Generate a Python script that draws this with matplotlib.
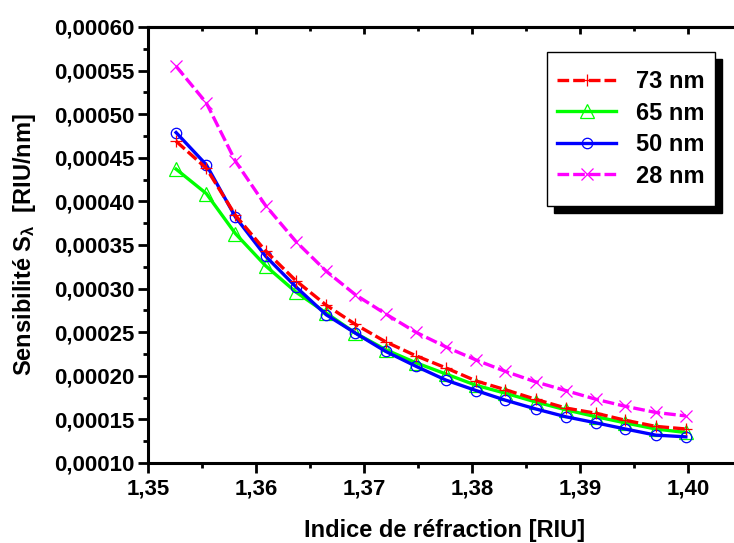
import matplotlib
matplotlib.use('Agg')
import matplotlib.pyplot as plt
from matplotlib.patches import Rectangle
from matplotlib.ticker import MultipleLocator, FuncFormatter

plt.rcParams['font.family'] = ['Liberation Sans', 'DejaVu Sans']
plt.rcParams['font.weight'] = 'bold'
plt.rcParams['mathtext.fontset'] = 'custom'
plt.rcParams['mathtext.rm'] = 'Liberation Sans:bold'
plt.rcParams['mathtext.it'] = 'Liberation Sans:bold'
plt.rcParams['mathtext.bf'] = 'Liberation Sans:bold'

# refractive index
n_index = [1.3526, 1.3554, 1.3581, 1.3609, 1.3637, 1.3665, 1.3692, 1.3720, 1.3748,
           1.3776, 1.3804, 1.3831, 1.3859, 1.3887, 1.3915, 1.3942, 1.3970, 1.3998]

# sensitivity per thickness
s_73nm = [0.000469, 0.000438, 0.000384, 0.000343, 0.000309, 0.000281, 0.000259, 0.000239, 0.000223,
          0.000209, 0.000194, 0.000184, 0.000173, 0.000163, 0.000157, 0.000149, 0.000142, 0.000139]
s_65nm = [0.000437, 0.000409, 0.000363, 0.000326, 0.000296, 0.000272, 0.000249, 0.000230, 0.000215,
          0.000202, 0.000189, 0.000180, 0.000170, 0.000161, 0.000153, 0.000146, 0.000139, 0.000135]
s_50nm = [0.000479, 0.000442, 0.000382, 0.000337, 0.000302, 0.000270, 0.000249, 0.000228, 0.000211,
          0.000195, 0.000183, 0.000172, 0.000162, 0.000153, 0.000146, 0.000139, 0.000132, 0.000130]
s_28nm = [0.000555, 0.000513, 0.000446, 0.000395, 0.000354, 0.000320, 0.000293, 0.000271, 0.000250,
          0.000233, 0.000218, 0.000205, 0.000193, 0.000183, 0.000173, 0.000165, 0.000158, 0.000154]

labels = ['73 nm', '65 nm', '50 nm', '28 nm']
x_ticks = [1.35, 1.36, 1.37, 1.38, 1.39, 1.40]
y_ticks = [0.00010, 0.00015, 0.00020, 0.00025, 0.00030, 0.00035, 0.00040, 0.00045, 0.00050, 0.00055, 0.00060]

fig = plt.figure(figsize=(7.34, 5.43), dpi=100)
ax = fig.add_axes([148 / 734, 1 - 463 / 543, 594 / 734, 436 / 543])

lw = 2.4
mew = 0.9
h1, = ax.plot(n_index, s_73nm, color='#ff0000', lw=lw, ls=(0, (3.5, 1.2)), marker='+', ms=9,
              mew=mew, zorder=5)
h2, = ax.plot(n_index, s_65nm, color='#00ff00', lw=lw, marker='^', ms=9.5, mfc='none', mew=mew, zorder=3)
h3, = ax.plot(n_index, s_50nm, color='#0000ff', lw=lw, marker='o', ms=7.5, mfc='none', mew=mew, zorder=4)
h4, = ax.plot(n_index, s_28nm, color='#ff00ff', lw=lw, ls=(0, (3.5, 1.2)), marker='x', ms=8,
              mew=mew, zorder=3)

ax.set_xlim(1.35, 1.405)
ax.set_ylim(0.0001, 0.0006)
ax.set_xticks(x_ticks)
ax.set_yticks(y_ticks)
ax.xaxis.set_minor_locator(MultipleLocator(0.005))
ax.yaxis.set_minor_locator(MultipleLocator(0.000025))
ax.xaxis.set_major_formatter(FuncFormatter(lambda v, _: f"{v:.2f}".replace('.', ',')))
ax.yaxis.set_major_formatter(FuncFormatter(lambda v, _: f"{v:.5f}".replace('.', ',')))

for sp in ax.spines.values():
    sp.set_linewidth(2.2)
ax.tick_params(which='major', direction='out', length=7, width=2.0, labelsize=16, pad=3)
ax.tick_params(which='minor', direction='out', length=3.6, width=2.0)
ax.tick_params(axis='x', which='major', pad=4)

# inward ticks on top and right
top = ax.secondary_xaxis('top')
top.set_xticks(x_ticks)
top.xaxis.set_minor_locator(MultipleLocator(0.005))
top.tick_params(which='major', direction='in', length=5, width=2.0, labeltop=False)
top.tick_params(which='minor', direction='in', length=2.8, width=2.0)
top.spines['top'].set_linewidth(2.2)
right = ax.secondary_yaxis('right')
right.set_yticks(y_ticks)
right.yaxis.set_minor_locator(MultipleLocator(0.000025))
right.tick_params(which='major', direction='in', length=5, width=2.0, labelright=False)
right.tick_params(which='minor', direction='in', length=2.8, width=2.0)
right.spines['right'].set_linewidth(2.2)

ax.set_xlabel('Indice de réfraction [RIU]', fontsize=17, fontweight='bold')
ax.set_ylabel('Sensibilité S$_\\lambda$  [RIU/nm]', fontsize=17, fontweight='bold')
ax.xaxis.set_label_coords(0.5, -0.128)
ax.yaxis.set_label_coords(-0.185, 0.5)

# legend box with solid shadow
bx0, bx1 = 546.7 / 734, 715 / 734
by0, by1 = 1 - 206 / 543, 1 - 51.7 / 543
ax.add_patch(Rectangle((bx0 + 7 / 734, by0 - 7 / 543), bx1 - bx0, by1 - by0, transform=fig.transFigure,
                       facecolor='black', edgecolor='black', clip_on=False, zorder=6))
ax.add_patch(Rectangle((bx0, by0), bx1 - bx0, by1 - by0, transform=fig.transFigure,
                       facecolor='white', edgecolor='black', lw=1.0, clip_on=False, zorder=7))
leg = ax.legend([h1, h2, h3, h4], labels, loc='center',
                bbox_to_anchor=((bx0 + bx1) / 2, (by0 + by1) / 2), bbox_transform=fig.transFigure,
                frameon=False, prop={'size': 17, 'weight': 'bold'}, handlelength=2.5,
                handletextpad=0.85, labelspacing=0.36, borderaxespad=0)
leg.set_zorder(8)

fig.savefig('out.png', dpi=100)
